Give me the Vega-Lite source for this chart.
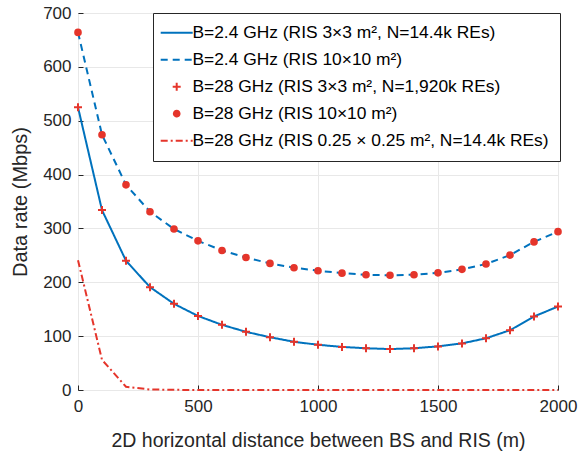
{
  "$schema": "https://vega.github.io/schema/vega-lite/v6.json",
  "width": 480,
  "height": 377,
  "autosize": {"type": "none"},
  "padding": {"left": 78, "top": 13, "right": 23, "bottom": 64},
  "background": "white",
  "config": {
    "view": {"stroke": "#262626", "strokeWidth": 1},
    "font": "Liberation Sans",
    "axis": {
      "labelFont": "Liberation Sans",
      "titleFont": "Liberation Sans",
      "labelColor": "#262626",
      "titleColor": "#262626",
      "titleFontWeight": "normal",
      "gridColor": "#e8e8e8",
      "gridWidth": 1,
      "domain": false,
      "ticks": true,
      "tickSize": -5,
      "tickColor": "#262626",
      "tickWidth": 1
    },
    "legend": {
      "labelFont": "Liberation Sans",
      "labelFontSize": 17.4,
      "labelColor": "#000000",
      "strokeColor": "#262626",
      "fillColor": "white",
      "padding": 11,
      "rowPadding": 8,
      "symbolStrokeWidth": 2,
      "symbolOffset": 4,
      "labelOffset": 7,
      "labelLimit": 500
    }
  },
  "data": {
    "values": [
      {"d": 0, "rate": 525, "series": "B=2.4 GHz (RIS 3×3 m², N=14.4k REs)"},
      {"d": 100, "rate": 334, "series": "B=2.4 GHz (RIS 3×3 m², N=14.4k REs)"},
      {"d": 200, "rate": 240, "series": "B=2.4 GHz (RIS 3×3 m², N=14.4k REs)"},
      {"d": 300, "rate": 191, "series": "B=2.4 GHz (RIS 3×3 m², N=14.4k REs)"},
      {"d": 400, "rate": 160, "series": "B=2.4 GHz (RIS 3×3 m², N=14.4k REs)"},
      {"d": 500, "rate": 137.5, "series": "B=2.4 GHz (RIS 3×3 m², N=14.4k REs)"},
      {"d": 600, "rate": 121, "series": "B=2.4 GHz (RIS 3×3 m², N=14.4k REs)"},
      {"d": 700, "rate": 108, "series": "B=2.4 GHz (RIS 3×3 m², N=14.4k REs)"},
      {"d": 800, "rate": 98, "series": "B=2.4 GHz (RIS 3×3 m², N=14.4k REs)"},
      {"d": 900, "rate": 89.5, "series": "B=2.4 GHz (RIS 3×3 m², N=14.4k REs)"},
      {"d": 1000, "rate": 84, "series": "B=2.4 GHz (RIS 3×3 m², N=14.4k REs)"},
      {"d": 1100, "rate": 80, "series": "B=2.4 GHz (RIS 3×3 m², N=14.4k REs)"},
      {"d": 1200, "rate": 77.5, "series": "B=2.4 GHz (RIS 3×3 m², N=14.4k REs)"},
      {"d": 1300, "rate": 76, "series": "B=2.4 GHz (RIS 3×3 m², N=14.4k REs)"},
      {"d": 1400, "rate": 77.5, "series": "B=2.4 GHz (RIS 3×3 m², N=14.4k REs)"},
      {"d": 1500, "rate": 81, "series": "B=2.4 GHz (RIS 3×3 m², N=14.4k REs)"},
      {"d": 1600, "rate": 86.5, "series": "B=2.4 GHz (RIS 3×3 m², N=14.4k REs)"},
      {"d": 1700, "rate": 96, "series": "B=2.4 GHz (RIS 3×3 m², N=14.4k REs)"},
      {"d": 1800, "rate": 111, "series": "B=2.4 GHz (RIS 3×3 m², N=14.4k REs)"},
      {"d": 1900, "rate": 136.5, "series": "B=2.4 GHz (RIS 3×3 m², N=14.4k REs)"},
      {"d": 2000, "rate": 155, "series": "B=2.4 GHz (RIS 3×3 m², N=14.4k REs)"},

      {"d": 0, "rate": 664, "series": "B=2.4 GHz (RIS 10×10 m²)"},
      {"d": 100, "rate": 474, "series": "B=2.4 GHz (RIS 10×10 m²)"},
      {"d": 200, "rate": 381, "series": "B=2.4 GHz (RIS 10×10 m²)"},
      {"d": 300, "rate": 331, "series": "B=2.4 GHz (RIS 10×10 m²)"},
      {"d": 400, "rate": 299, "series": "B=2.4 GHz (RIS 10×10 m²)"},
      {"d": 500, "rate": 277, "series": "B=2.4 GHz (RIS 10×10 m²)"},
      {"d": 600, "rate": 259, "series": "B=2.4 GHz (RIS 10×10 m²)"},
      {"d": 700, "rate": 246, "series": "B=2.4 GHz (RIS 10×10 m²)"},
      {"d": 800, "rate": 235, "series": "B=2.4 GHz (RIS 10×10 m²)"},
      {"d": 900, "rate": 227, "series": "B=2.4 GHz (RIS 10×10 m²)"},
      {"d": 1000, "rate": 221.5, "series": "B=2.4 GHz (RIS 10×10 m²)"},
      {"d": 1100, "rate": 217, "series": "B=2.4 GHz (RIS 10×10 m²)"},
      {"d": 1200, "rate": 214, "series": "B=2.4 GHz (RIS 10×10 m²)"},
      {"d": 1300, "rate": 213, "series": "B=2.4 GHz (RIS 10×10 m²)"},
      {"d": 1400, "rate": 214, "series": "B=2.4 GHz (RIS 10×10 m²)"},
      {"d": 1500, "rate": 217.5, "series": "B=2.4 GHz (RIS 10×10 m²)"},
      {"d": 1600, "rate": 224, "series": "B=2.4 GHz (RIS 10×10 m²)"},
      {"d": 1700, "rate": 234, "series": "B=2.4 GHz (RIS 10×10 m²)"},
      {"d": 1800, "rate": 250.5, "series": "B=2.4 GHz (RIS 10×10 m²)"},
      {"d": 1900, "rate": 275, "series": "B=2.4 GHz (RIS 10×10 m²)"},
      {"d": 2000, "rate": 294, "series": "B=2.4 GHz (RIS 10×10 m²)"},

      {"d": 0, "rate": 525, "series": "B=28 GHz (RIS 3×3 m², N=1,920k REs)"},
      {"d": 100, "rate": 334, "series": "B=28 GHz (RIS 3×3 m², N=1,920k REs)"},
      {"d": 200, "rate": 240, "series": "B=28 GHz (RIS 3×3 m², N=1,920k REs)"},
      {"d": 300, "rate": 191, "series": "B=28 GHz (RIS 3×3 m², N=1,920k REs)"},
      {"d": 400, "rate": 160, "series": "B=28 GHz (RIS 3×3 m², N=1,920k REs)"},
      {"d": 500, "rate": 137.5, "series": "B=28 GHz (RIS 3×3 m², N=1,920k REs)"},
      {"d": 600, "rate": 121, "series": "B=28 GHz (RIS 3×3 m², N=1,920k REs)"},
      {"d": 700, "rate": 108, "series": "B=28 GHz (RIS 3×3 m², N=1,920k REs)"},
      {"d": 800, "rate": 98, "series": "B=28 GHz (RIS 3×3 m², N=1,920k REs)"},
      {"d": 900, "rate": 89.5, "series": "B=28 GHz (RIS 3×3 m², N=1,920k REs)"},
      {"d": 1000, "rate": 84, "series": "B=28 GHz (RIS 3×3 m², N=1,920k REs)"},
      {"d": 1100, "rate": 80, "series": "B=28 GHz (RIS 3×3 m², N=1,920k REs)"},
      {"d": 1200, "rate": 77.5, "series": "B=28 GHz (RIS 3×3 m², N=1,920k REs)"},
      {"d": 1300, "rate": 76, "series": "B=28 GHz (RIS 3×3 m², N=1,920k REs)"},
      {"d": 1400, "rate": 77.5, "series": "B=28 GHz (RIS 3×3 m², N=1,920k REs)"},
      {"d": 1500, "rate": 81, "series": "B=28 GHz (RIS 3×3 m², N=1,920k REs)"},
      {"d": 1600, "rate": 86.5, "series": "B=28 GHz (RIS 3×3 m², N=1,920k REs)"},
      {"d": 1700, "rate": 96, "series": "B=28 GHz (RIS 3×3 m², N=1,920k REs)"},
      {"d": 1800, "rate": 111, "series": "B=28 GHz (RIS 3×3 m², N=1,920k REs)"},
      {"d": 1900, "rate": 136.5, "series": "B=28 GHz (RIS 3×3 m², N=1,920k REs)"},
      {"d": 2000, "rate": 155, "series": "B=28 GHz (RIS 3×3 m², N=1,920k REs)"},

      {"d": 0, "rate": 664, "series": "B=28 GHz (RIS 10×10 m²)"},
      {"d": 100, "rate": 474, "series": "B=28 GHz (RIS 10×10 m²)"},
      {"d": 200, "rate": 381, "series": "B=28 GHz (RIS 10×10 m²)"},
      {"d": 300, "rate": 331, "series": "B=28 GHz (RIS 10×10 m²)"},
      {"d": 400, "rate": 299, "series": "B=28 GHz (RIS 10×10 m²)"},
      {"d": 500, "rate": 277, "series": "B=28 GHz (RIS 10×10 m²)"},
      {"d": 600, "rate": 259, "series": "B=28 GHz (RIS 10×10 m²)"},
      {"d": 700, "rate": 246, "series": "B=28 GHz (RIS 10×10 m²)"},
      {"d": 800, "rate": 235, "series": "B=28 GHz (RIS 10×10 m²)"},
      {"d": 900, "rate": 227, "series": "B=28 GHz (RIS 10×10 m²)"},
      {"d": 1000, "rate": 221.5, "series": "B=28 GHz (RIS 10×10 m²)"},
      {"d": 1100, "rate": 217, "series": "B=28 GHz (RIS 10×10 m²)"},
      {"d": 1200, "rate": 214, "series": "B=28 GHz (RIS 10×10 m²)"},
      {"d": 1300, "rate": 213, "series": "B=28 GHz (RIS 10×10 m²)"},
      {"d": 1400, "rate": 214, "series": "B=28 GHz (RIS 10×10 m²)"},
      {"d": 1500, "rate": 217.5, "series": "B=28 GHz (RIS 10×10 m²)"},
      {"d": 1600, "rate": 224, "series": "B=28 GHz (RIS 10×10 m²)"},
      {"d": 1700, "rate": 234, "series": "B=28 GHz (RIS 10×10 m²)"},
      {"d": 1800, "rate": 250.5, "series": "B=28 GHz (RIS 10×10 m²)"},
      {"d": 1900, "rate": 275, "series": "B=28 GHz (RIS 10×10 m²)"},
      {"d": 2000, "rate": 294, "series": "B=28 GHz (RIS 10×10 m²)"},

      {"d": 0, "rate": 241, "series": "B=28 GHz (RIS 0.25 × 0.25 m², N=14.4k REs)"},
      {"d": 100, "rate": 56, "series": "B=28 GHz (RIS 0.25 × 0.25 m², N=14.4k REs)"},
      {"d": 200, "rate": 6, "series": "B=28 GHz (RIS 0.25 × 0.25 m², N=14.4k REs)"},
      {"d": 300, "rate": 1, "series": "B=28 GHz (RIS 0.25 × 0.25 m², N=14.4k REs)"},
      {"d": 400, "rate": 0.3, "series": "B=28 GHz (RIS 0.25 × 0.25 m², N=14.4k REs)"},
      {"d": 500, "rate": 0.1, "series": "B=28 GHz (RIS 0.25 × 0.25 m², N=14.4k REs)"},
      {"d": 600, "rate": 0, "series": "B=28 GHz (RIS 0.25 × 0.25 m², N=14.4k REs)"},
      {"d": 700, "rate": 0, "series": "B=28 GHz (RIS 0.25 × 0.25 m², N=14.4k REs)"},
      {"d": 800, "rate": 0, "series": "B=28 GHz (RIS 0.25 × 0.25 m², N=14.4k REs)"},
      {"d": 900, "rate": 0, "series": "B=28 GHz (RIS 0.25 × 0.25 m², N=14.4k REs)"},
      {"d": 1000, "rate": 0, "series": "B=28 GHz (RIS 0.25 × 0.25 m², N=14.4k REs)"},
      {"d": 1100, "rate": 0, "series": "B=28 GHz (RIS 0.25 × 0.25 m², N=14.4k REs)"},
      {"d": 1200, "rate": 0, "series": "B=28 GHz (RIS 0.25 × 0.25 m², N=14.4k REs)"},
      {"d": 1300, "rate": 0, "series": "B=28 GHz (RIS 0.25 × 0.25 m², N=14.4k REs)"},
      {"d": 1400, "rate": 0, "series": "B=28 GHz (RIS 0.25 × 0.25 m², N=14.4k REs)"},
      {"d": 1500, "rate": 0, "series": "B=28 GHz (RIS 0.25 × 0.25 m², N=14.4k REs)"},
      {"d": 1600, "rate": 0, "series": "B=28 GHz (RIS 0.25 × 0.25 m², N=14.4k REs)"},
      {"d": 1700, "rate": 0, "series": "B=28 GHz (RIS 0.25 × 0.25 m², N=14.4k REs)"},
      {"d": 1800, "rate": 0, "series": "B=28 GHz (RIS 0.25 × 0.25 m², N=14.4k REs)"},
      {"d": 1900, "rate": 0, "series": "B=28 GHz (RIS 0.25 × 0.25 m², N=14.4k REs)"},
      {"d": 2000, "rate": 0, "series": "B=28 GHz (RIS 0.25 × 0.25 m², N=14.4k REs)"}
    ]
  },
  "encoding": {
    "x": {
      "field": "d", "type": "quantitative",
      "scale": {"domain": [0, 2000], "nice": false, "zero": false},
      "axis": {
        "title": "2D horizontal distance between BS and RIS (m)",
        "values": [0, 500, 1000, 1500, 2000],
        "format": "d",
        "labelFontSize": 17, "titleFontSize": 19.5,
        "labelPadding": 13, "titlePadding": 17,
        "labelFlush": false
      }
    },
    "y": {
      "field": "rate", "type": "quantitative",
      "scale": {"domain": [0, 700], "nice": false},
      "axis": {
        "title": "Data rate (Mbps)",
        "values": [0, 100, 200, 300, 400, 500, 600, 700],
        "labelFontSize": 17, "titleFontSize": 20,
        "labelPadding": 12, "titlePadding": 12,
        "labelFlush": false
      }
    }
  },
  "layer": [
    {
      "transform": [{"filter": {"field": "series", "oneOf": ["B=2.4 GHz (RIS 3×3 m², N=14.4k REs)", "B=2.4 GHz (RIS 10×10 m²)", "B=28 GHz (RIS 0.25 × 0.25 m², N=14.4k REs)"]}}],
      "mark": {"type": "line", "strokeWidth": 2},
      "encoding": {
        "stroke": {
          "field": "series", "type": "nominal", "sort": null,
          "scale": {
            "domain": ["B=2.4 GHz (RIS 3×3 m², N=14.4k REs)", "B=2.4 GHz (RIS 10×10 m²)", "B=28 GHz (RIS 3×3 m², N=1,920k REs)", "B=28 GHz (RIS 10×10 m²)", "B=28 GHz (RIS 0.25 × 0.25 m², N=14.4k REs)"],
            "range": ["#0072BD", "#0072BD", "#e5352b", "#e5352b", "#e5352b"]
          },
          "legend": {"title": null, "orient": "none", "legendX": 75, "legendY": 0, "strokeColor": "#262626", "fillColor": "white"}
        },
        "strokeDash": {
          "field": "series", "type": "nominal", "sort": null,
          "scale": {
            "domain": ["B=2.4 GHz (RIS 3×3 m², N=14.4k REs)", "B=2.4 GHz (RIS 10×10 m²)", "B=28 GHz (RIS 3×3 m², N=1,920k REs)", "B=28 GHz (RIS 10×10 m²)", "B=28 GHz (RIS 0.25 × 0.25 m², N=14.4k REs)"],
            "range": [[1, 0], [7, 5], [1, 0], [1, 0], [7, 3, 2, 3]]
          },
          "legend": {"title": null, "orient": "none", "legendX": 75, "legendY": 0, "strokeColor": "#262626", "fillColor": "white"}
        }
      }
    },
    {
      "transform": [{"filter": {"field": "series", "oneOf": ["B=28 GHz (RIS 3×3 m², N=1,920k REs)", "B=28 GHz (RIS 10×10 m²)"]}}],
      "mark": {"type": "point", "filled": false, "strokeWidth": 2, "opacity": 1},
      "encoding": {
        "stroke": {"field": "series", "type": "nominal", "sort": null},
        "shape": {
          "field": "series", "type": "nominal", "sort": null,
          "scale": {
            "domain": ["B=2.4 GHz (RIS 3×3 m², N=14.4k REs)", "B=2.4 GHz (RIS 10×10 m²)", "B=28 GHz (RIS 3×3 m², N=1,920k REs)", "B=28 GHz (RIS 10×10 m²)", "B=28 GHz (RIS 0.25 × 0.25 m², N=14.4k REs)"],
            "range": ["M-4,0H4", "M-4,0H4", "M-1,0H1M0,-1V1", "circle", "M-4,0H4"]
          },
          "legend": {"title": null, "orient": "none", "legendX": 75, "legendY": 0, "strokeColor": "#262626", "fillColor": "white"}
        },
        "fill": {
          "field": "series", "type": "nominal", "sort": null,
          "scale": {
            "domain": ["B=2.4 GHz (RIS 3×3 m², N=14.4k REs)", "B=2.4 GHz (RIS 10×10 m²)", "B=28 GHz (RIS 3×3 m², N=1,920k REs)", "B=28 GHz (RIS 10×10 m²)", "B=28 GHz (RIS 0.25 × 0.25 m², N=14.4k REs)"],
            "range": ["transparent", "transparent", "transparent", "#e5352b", "transparent"]
          },
          "legend": {"title": null, "orient": "none", "legendX": 75, "legendY": 0, "strokeColor": "#262626", "fillColor": "white"}
        },
        "size": {
          "field": "series", "type": "ordinal", "sort": null,
          "scale": {
            "type": "ordinal",
            "domain": ["B=2.4 GHz (RIS 3×3 m², N=14.4k REs)", "B=2.4 GHz (RIS 10×10 m²)", "B=28 GHz (RIS 3×3 m², N=1,920k REs)", "B=28 GHz (RIS 10×10 m²)", "B=28 GHz (RIS 0.25 × 0.25 m², N=14.4k REs)"],
            "range": [64, 64, 64, 32, 64]
          },
          "legend": {"title": null, "orient": "none", "legendX": 75, "legendY": 0, "strokeColor": "#262626", "fillColor": "white"}
        }
      }
    }
  ]
}
